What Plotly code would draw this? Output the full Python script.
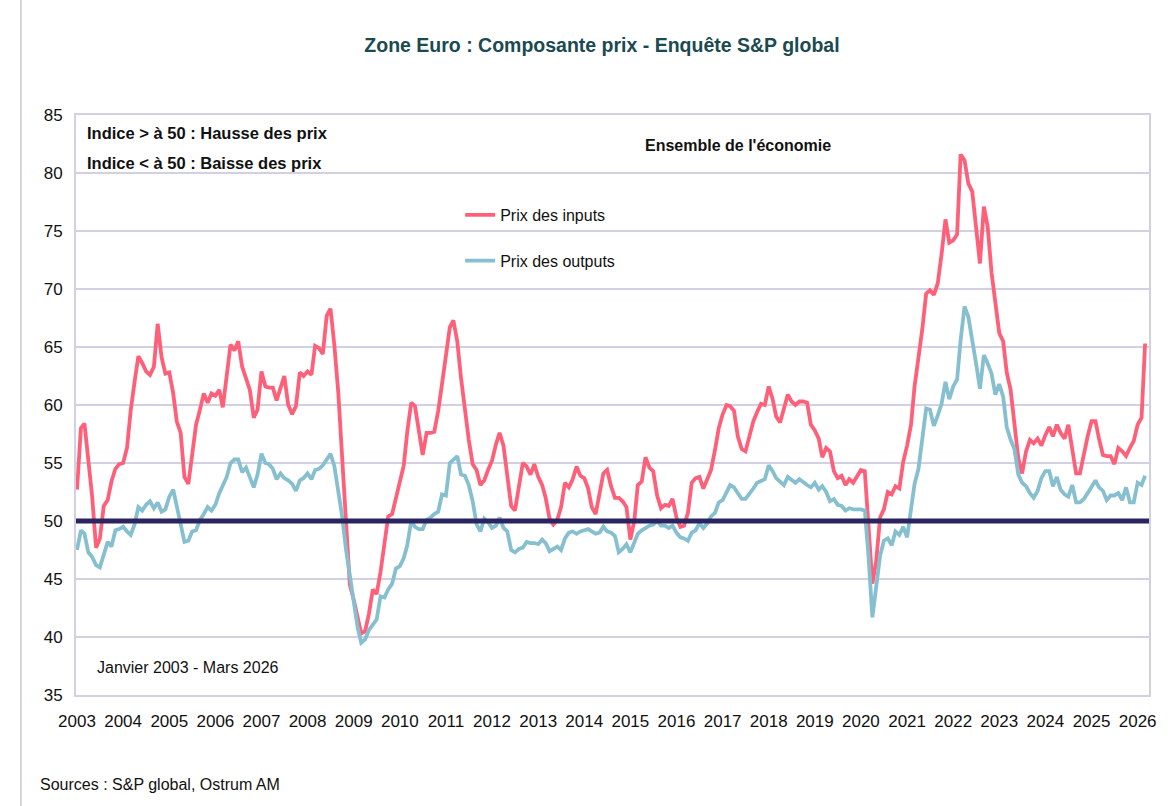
import pandas as pd
import plotly.graph_objects as go

# Monthly data, Jan 2003 - Mar 2026
inputs_2003 = [52.7, 58.0, 58.4, 55.5, 52.1, 47.7, 48.5, 51.3, 51.8, 53.4, 54.5, 54.9]
inputs_2004 = [55.0, 56.3, 59.5, 62.0, 64.2, 63.6, 62.9, 62.6, 63.3, 67.0, 64.1, 62.7]
inputs_2005 = [62.8, 61.0, 58.6, 57.6, 53.8, 53.2, 55.5, 58.3, 59.6, 61.0, 60.2, 61.0]
inputs_2006 = [60.8, 61.3, 59.8, 62.3, 65.2, 64.7, 65.5, 63.3, 62.4, 61.3, 58.9, 59.6]
inputs_2007 = [62.9, 61.6, 61.5, 61.5, 60.4, 61.6, 62.5, 60.0, 59.2, 59.9, 62.8, 62.5]
inputs_2008 = [62.9, 62.6, 65.1, 64.9, 64.4, 67.7, 68.3, 65.1, 61.0, 55.5, 50.5, 44.5]
inputs_2009 = [43.2, 41.8, 40.3, 40.5, 42.0, 44.1, 43.7, 45.6, 48.2, 50.4, 50.6, 52.0]
inputs_2010 = [53.3, 54.8, 57.7, 60.2, 59.9, 57.9, 55.7, 57.6, 57.6, 57.7, 59.5, 61.8]
inputs_2011 = [64.3, 66.7, 67.3, 65.5, 62.3, 59.4, 57.0, 54.9, 54.4, 53.1, 53.5, 54.4]
inputs_2012 = [55.2, 56.6, 57.6, 56.5, 54.2, 51.3, 50.9, 52.9, 55.0, 54.7, 54.0, 54.9]
inputs_2013 = [53.8, 53.1, 52.0, 50.2, 49.7, 50.1, 51.2, 53.3, 52.9, 53.6, 54.7, 53.9]
inputs_2014 = [53.7, 52.8, 51.2, 50.6, 52.3, 54.1, 54.4, 53.0, 52.0, 52.0, 51.7, 51.2]
inputs_2015 = [48.4, 50.0, 53.1, 53.4, 55.5, 54.6, 54.3, 52.2, 51.1, 51.4, 51.3, 51.9]
inputs_2016 = [50.3, 49.5, 49.6, 50.7, 53.3, 53.7, 53.8, 52.8, 53.6, 54.4, 56.1, 58.0]
inputs_2017 = [59.2, 60.0, 59.9, 59.5, 57.3, 56.2, 56.0, 57.2, 58.6, 59.4, 60.1, 60.0]
inputs_2018 = [61.6, 60.5, 59.0, 58.5, 59.7, 60.9, 60.3, 60.0, 60.3, 60.3, 60.2, 58.3]
inputs_2019 = [57.8, 57.1, 55.5, 56.3, 56.0, 54.3, 53.7, 53.9, 53.1, 53.6, 53.3, 53.8]
inputs_2020 = [54.4, 54.3, 49.0, 44.6, 46.5, 50.3, 51.0, 52.5, 52.3, 53.0, 52.8, 55.1]
inputs_2021 = [56.5, 58.3, 61.6, 64.0, 66.5, 69.6, 69.9, 69.5, 70.5, 73.0, 76.0, 74.0]
inputs_2022 = [74.2, 74.7, 81.6, 81.1, 79.1, 78.4, 75.0, 72.2, 77.1, 75.4, 71.4, 68.8]
inputs_2023 = [66.2, 65.5, 62.8, 61.3, 58.0, 55.4, 54.1, 56.0, 57.0, 56.7, 57.1, 56.5]
inputs_2024 = [57.4, 58.1, 57.3, 58.3, 57.6, 57.1, 58.3, 56.1, 54.1, 54.1, 55.9, 57.3]
inputs_2025 = [58.6, 58.6, 57.1, 55.7, 55.6, 55.6, 54.9, 56.3, 56.0, 55.6, 56.3, 56.9]
inputs_2026 = [58.3, 58.9, 65.3]

outputs_2003 = [47.5, 49.2, 48.9, 47.3, 46.9, 46.2, 46.0, 47.0, 48.2, 47.8, 49.2, 49.3]
outputs_2004 = [49.5, 49.1, 48.8, 49.7, 51.2, 50.9, 51.4, 51.7, 51.1, 51.6, 50.8, 51.0]
outputs_2005 = [52.1, 52.7, 51.3, 49.6, 48.2, 48.3, 49.1, 49.2, 50.1, 50.6, 51.2, 50.9]
outputs_2006 = [51.4, 52.4, 53.1, 53.8, 55.0, 55.3, 55.3, 54.2, 54.6, 53.8, 52.9, 54.0]
outputs_2007 = [55.8, 55.0, 54.9, 54.5, 53.6, 54.1, 53.7, 53.5, 53.2, 52.6, 53.5, 53.7]
outputs_2008 = [54.1, 53.6, 54.4, 54.5, 54.8, 55.3, 55.8, 54.7, 52.5, 50.4, 47.5, 45.2]
outputs_2009 = [43.2, 40.8, 39.5, 39.8, 40.6, 41.1, 41.5, 43.5, 43.4, 44.1, 44.6, 45.9]
outputs_2010 = [46.1, 46.8, 47.9, 50.0, 49.5, 49.3, 49.3, 50.1, 50.3, 50.6, 50.8, 52.3]
outputs_2011 = [52.2, 55.0, 55.3, 55.6, 54.0, 53.9, 53.1, 51.7, 49.7, 49.1, 50.2, 49.9]
outputs_2012 = [49.4, 49.6, 50.3, 49.4, 49.1, 47.5, 47.3, 47.6, 47.7, 48.2, 48.1, 48.1]
outputs_2013 = [48.0, 48.4, 48.1, 47.4, 47.6, 47.8, 47.5, 48.5, 49.0, 49.1, 48.9, 49.1]
outputs_2014 = [49.2, 49.3, 49.1, 48.9, 49.0, 49.5, 49.1, 49.0, 48.7, 47.3, 47.6, 48.0]
outputs_2015 = [47.3, 48.1, 48.9, 49.2, 49.4, 49.6, 49.7, 50.0, 49.6, 49.6, 49.4, 49.6]
outputs_2016 = [49.0, 48.6, 48.5, 48.3, 49.0, 49.2, 49.8, 49.4, 49.8, 50.4, 50.7, 51.6]
outputs_2017 = [51.8, 52.4, 53.1, 52.9, 52.4, 51.9, 51.9, 52.3, 52.8, 53.3, 53.5, 53.6]
outputs_2018 = [54.8, 54.3, 53.7, 53.4, 53.1, 53.8, 53.6, 53.3, 53.6, 53.3, 53.1, 52.9]
outputs_2019 = [53.3, 52.7, 53.0, 52.5, 51.7, 51.9, 51.4, 51.3, 50.9, 51.1, 51.0, 51.0]
outputs_2020 = [51.0, 50.9, 47.0, 41.7, 44.3, 47.0, 48.3, 48.5, 47.9, 49.1, 48.8, 49.5]
outputs_2021 = [48.6, 50.8, 53.2, 54.5, 57.3, 59.7, 59.6, 58.2, 59.1, 60.1, 62.0, 60.5]
outputs_2022 = [61.6, 62.2, 65.6, 68.5, 67.6, 65.3, 63.6, 61.4, 64.3, 63.6, 62.7, 60.9]
outputs_2023 = [61.8, 60.7, 58.1, 57.0, 56.2, 54.0, 53.3, 53.0, 52.4, 52.0, 52.6, 53.7]
outputs_2024 = [54.3, 54.3, 53.0, 53.8, 52.7, 52.3, 52.1, 53.1, 51.6, 51.6, 51.9, 52.4]
outputs_2025 = [53.0, 53.5, 52.9, 52.6, 51.8, 52.2, 52.2, 52.4, 51.8, 52.9, 51.6, 51.6]
outputs_2026 = [53.3, 53.1, 53.9]

years = list(range(2003, 2027))
tick_labels = [str(y) for y in years]
threshold = 50

inputs = []
outputs = []
for y in years:
    inputs += globals()[f"inputs_{y}"]
    outputs += globals()[f"outputs_{y}"]

dates = pd.date_range("2003-01-01", periods=len(inputs), freq="MS")
tick_vals = [pd.Timestamp(f"{y}-01-01") for y in years]

FONT = "Liberation Sans, Arial, sans-serif"
RED = "#FF6079"
BLUE = "#86C0D0"
NAVY = "#2A2560"
GRID = "#D2D0E2"

fig = go.Figure()
fig.add_trace(go.Scatter(x=dates, y=inputs, mode="lines", name="Prix des inputs",
                         line=dict(color=RED, width=3.8), legendgroup="a"))
fig.add_trace(go.Scatter(x=dates, y=outputs, mode="lines", name="Prix des outputs",
                         line=dict(color=BLUE, width=3.8), legendgroup="b"))

fig.add_shape(type="line", xref="paper", yref="y", x0=0, x1=1, y0=threshold, y1=threshold,
              line=dict(color=NAVY, width=5), layer="above")
# left frame line
fig.add_shape(type="line", xref="paper", yref="paper", x0=-0.0513, x1=-0.0513, y0=-0.2, y1=1.2,
              line=dict(color="#C9C8DA", width=1.5))

fig.update_layout(
    width=1170, height=806,
    margin=dict(l=76, r=21, t=115, b=111),
    paper_bgcolor="white", plot_bgcolor="white",
    font=dict(family=FONT, size=17, color="#111111"),
    title=dict(text="<b>Zone Euro : Composante prix - Enquête S&P global</b>",
               x=0.5145, xanchor="center", y=0.944, yanchor="middle",
               font=dict(family=FONT, size=19.5, color="#1B4A50")),
    showlegend=True,
    legend=dict(x=0.358, y=0.857, xanchor="left", yanchor="top", bgcolor="rgba(0,0,0,0)",
                font=dict(family=FONT, size=16, color="#111111"), tracegroupgap=22,
                itemwidth=30),
    xaxis=dict(type="date", range=["2002-12-24", "2026-04-01"], tickvals=tick_vals,
               ticktext=tick_labels, showgrid=False, showline=True, linecolor=GRID,
               linewidth=2, mirror=True, ticks="", tickfont=dict(size=17), zeroline=False,
               ticklabelstandoff=10),
    yaxis=dict(range=[35, 85], dtick=5, showgrid=True, gridcolor=GRID, gridwidth=2,
               showline=True, linecolor=GRID, linewidth=2, mirror=True, ticks="",
               tickfont=dict(size=17), zeroline=False, ticklabelstandoff=8),
)

fig.add_annotation(x=0.008, y=0.969, xref="paper", yref="paper", xanchor="left", yanchor="middle",
                   text="<b>Indice > à 50 : Hausse des prix</b>", showarrow=False,
                   font=dict(size=16.5, family=FONT), align="left")
fig.add_annotation(x=0.008, y=0.917, xref="paper", yref="paper", xanchor="left", yanchor="middle",
                   text="<b>Indice < à 50 : Baisse des prix</b>", showarrow=False,
                   font=dict(size=16.5, family=FONT), align="left")
fig.add_annotation(x=0.617, y=0.9466, xref="paper", yref="paper", xanchor="center", yanchor="middle",
                   text="<b>Ensemble de l'économie</b>", showarrow=False,
                   font=dict(size=16, family=FONT))
fig.add_annotation(x=0.018, y=0.048, xref="paper", yref="paper", xanchor="left", yanchor="middle",
                   text="Janvier 2003 - Mars 2026", showarrow=False,
                   font=dict(size=16, family=FONT))
fig.add_annotation(x=(38 - 76) / 1073, y=(695 - 784) / 580, xref="paper", yref="paper",
                   xanchor="left", yanchor="middle", showarrow=False,
                   text="Sources : S&P global, Ostrum AM", font=dict(size=16, family=FONT))

fig.write_html("out.html", config={"displayModeBar": False},
               post_script="document.body.style.margin='0';")
